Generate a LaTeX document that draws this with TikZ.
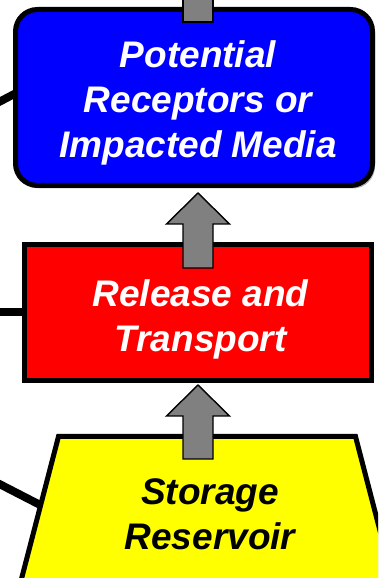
\documentclass[tikz,border=0pt]{standalone}
\usepackage{fontspec}
\setmainfont{Liberation Sans}
\usetikzlibrary{shadows,calc}
\tikzset{
  boxfont/.style={font=\fontsize{37}{45}\selectfont\bfseries\itshape, align=center, inner sep=0pt},
  shade/.style={drop shadow={shadow xshift=2.5pt, shadow yshift=-3pt, opacity=0.3, fill=black}},
  boxline/.style={draw=black, line width=5pt},
  feed/.style={draw=black, line width=8pt},
  blockarrow/.style={draw=black, line width=1.4pt, fill=black!50, line join=miter}
}
% block arrow from tail coordinate #1 to tip coordinate #2 (vertical, upward)
\newcommand{\blockup}[2]{%
  \path[blockarrow] let \p1=(#1), \p2=(#2) in
    (\x1-15,\y1) -- (\x1-15,\y2-31) -- (\x1-31.5,\y2-31) -- (\x2,\y2)
    -- (\x1+31.5,\y2-31) -- (\x1+15,\y2-31) -- (\x1+15,\y1) -- cycle;}
\begin{document}
\begin{tikzpicture}[x=1pt,y=1pt]
\useasboundingbox (0,0) rectangle (378,578);
\clip (0,0) rectangle (378,578);
% free ends of the side connectors
\coordinate (f1) at (-20,466);
\coordinate (e1) at (20,487);
\coordinate (f2) at (-10,266);
\coordinate (e2) at (30,266);
\coordinate (f3) at (-20,104);
\coordinate (e3) at (48,69);
\draw[feed] (f1) -- (e1);
\draw[feed] (f2) -- (e2);
\draw[feed] (f3) -- (e3);
% boxes
\node[boxline, shade, fill={rgb,255:red,0;green,0;blue,255}, rounded corners=22pt,
  minimum width=357pt, minimum height=176pt] (recept) at (194,480.5) {};
\node[boxfont, text=white] (receptT) at (198,475.5) {Potential\\Receptors or\\Impacted Media};
\node[boxline, shade, fill={rgb,255:red,255;green,0;blue,0},
  minimum width=347pt, minimum height=136pt] (release) at (198,265.5) {};
\node[boxfont, text=white] (releaseT) at (200.5,259) {Release and\\Transport};
\path[boxline, shade, fill={rgb,255:red,255;green,255;blue,0}]
  (58.5,141.5) -- (355.5,141.5) -- (398,-22) -- (16,-22) -- cycle;
\node[boxfont, text=black] (storage) at (210,63.5) {Storage\\Reservoir};
% block arrows
\coordinate (t1) at (198,310);
\coordinate (h1) at (198,385);
\coordinate (t2) at (198,119);
\coordinate (h2) at (198,193);
\blockup{t1}{h1}
\blockup{t2}{h2}
\coordinate (t0) at (198,556);
\coordinate (h0) at (198,590);
\draw[blockarrow] ($(t0)+(-15,0)$) rectangle ($(h0)+(15,0)$);
\end{tikzpicture}
\end{document}
